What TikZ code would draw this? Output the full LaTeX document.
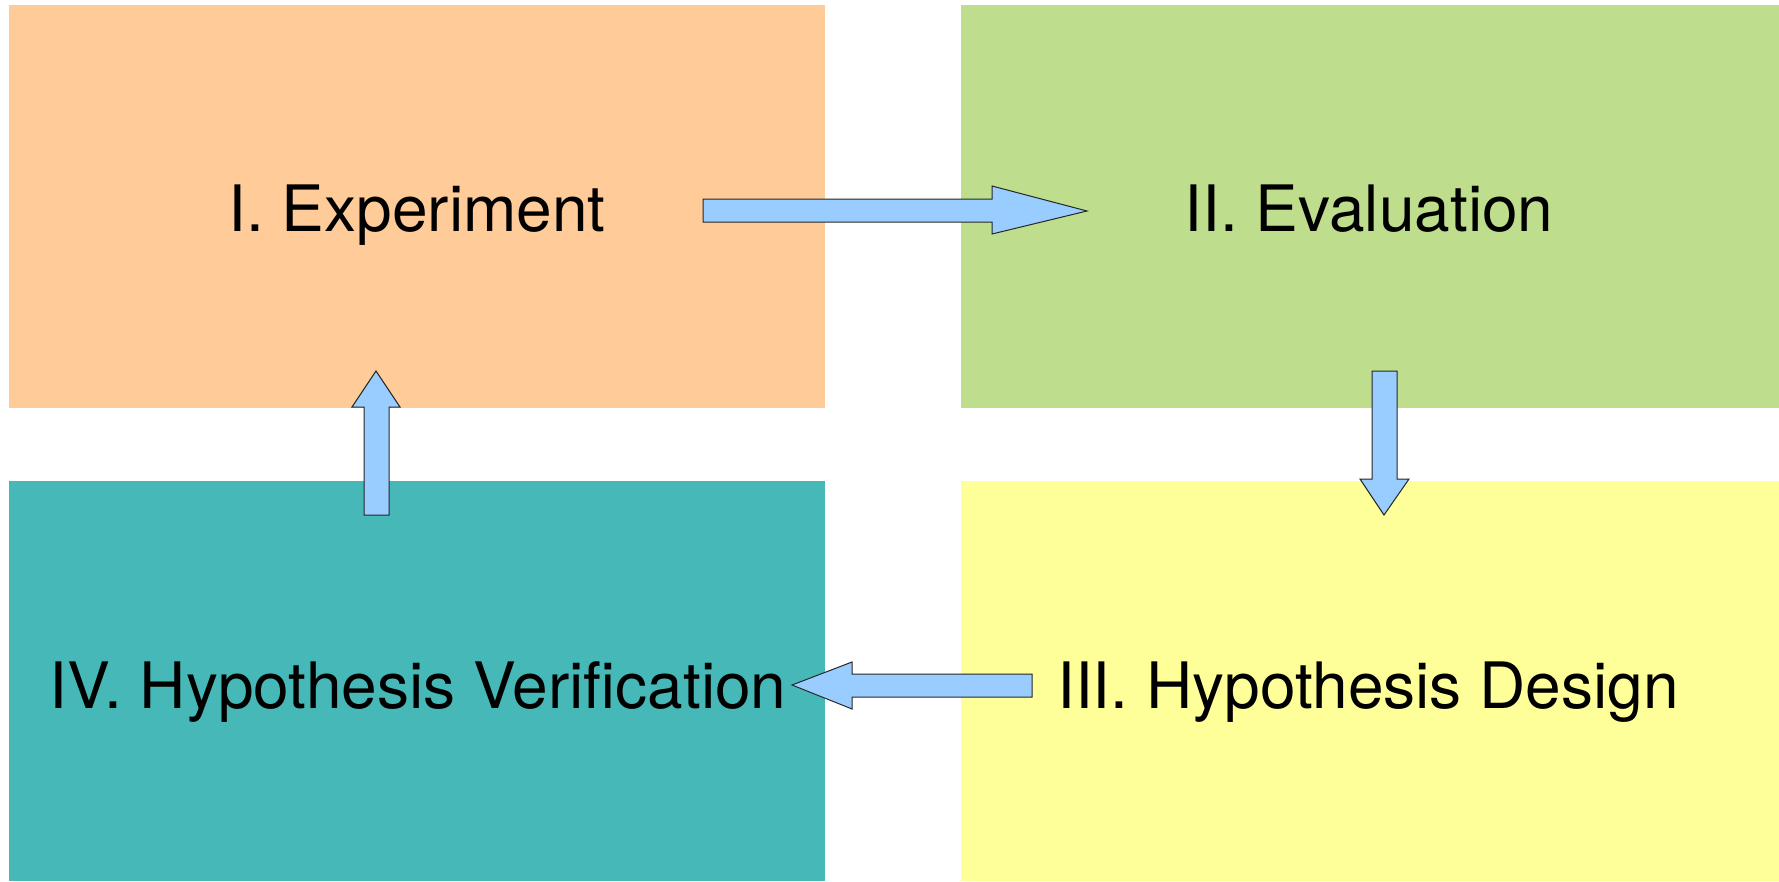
\documentclass[tikz,border=0pt]{standalone}
\usepackage{fontspec}
\setmainfont{TeX Gyre Heros}
\definecolor{boxorange}{RGB}{255,204,153}
\definecolor{boxgreen}{RGB}{191,222,141}
\definecolor{boxteal}{RGB}{71,184,184}
\definecolor{boxyellow}{RGB}{255,255,153}
\definecolor{arrowblue}{RGB}{153,204,255}
\begin{document}
\begin{tikzpicture}[x=1pt,y=-1pt,
  blockarrow/.style={fill=arrowblue,draw=black!85,line width=1pt,line join=miter},
  label/.style={font=\fontsize{64}{77}\selectfont,anchor=base,inner sep=0pt}]
\useasboundingbox (0,0) rectangle (1779,881);
\fill[boxorange] (9,5) rectangle (825,408);
\fill[boxgreen] (961,5) rectangle (1779,408);
\fill[boxteal] (9,481) rectangle (825,881);
\fill[boxyellow] (961,481) rectangle (1779,881);
\node[label] (exp) at (417,231) {I. Experiment};
\node[label] (eval) at (1369,231) {II. Evaluation};
\node[label] (ver) at (418,708) {IV. Hypothesis Verification};
\node[label] (des) at (1368,708) {III. Hypothesis Design};
% right arrow
\draw[blockarrow] (703,199) -- (992,199) -- (992,186) -- (1087,211) -- (992,234) -- (992,222) -- (703,222) -- cycle;
% down arrow
\draw[blockarrow] (1372,371) -- (1397,371) -- (1397,479) -- (1409,479) -- (1384,515) -- (1360,479) -- (1372,479) -- cycle;
% left arrow
\draw[blockarrow] (1032,674) -- (852,674) -- (852,662) -- (792,685) -- (852,709) -- (852,697) -- (1032,697) -- cycle;
% up arrow
\draw[blockarrow] (364,515) -- (364,407) -- (352,407) -- (376,371) -- (400,407) -- (389,407) -- (389,515) -- cycle;
\end{tikzpicture}
\end{document}
